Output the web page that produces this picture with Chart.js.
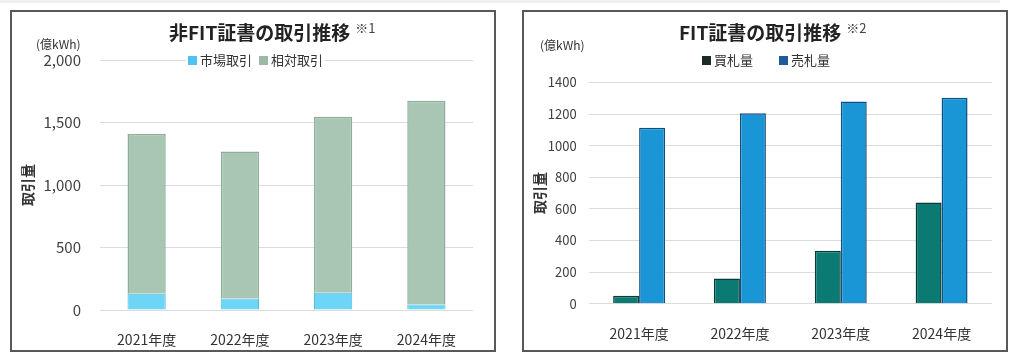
<!DOCTYPE html>
<html>
<head>
<meta charset="utf-8">
<script src="https://cdn.jsdelivr.net/npm/chart.js@4.4.1/dist/chart.umd.min.js"></script>
<style>
  html, body { margin: 0; padding: 0; background: #ffffff; }
  body { width: 1024px; height: 364px; position: relative; overflow: hidden;
         font-family: "Noto Sans CJK JP", "Noto Sans", sans-serif; color: #262626; }
  .strip { position: absolute; left: 0; top: 0; width: 1000px; height: 3px; background: #efefef; }
  .panel { position: absolute; top: 10px; width: 482px; height: 338px; border: 2px solid #595959; background: #fff; }
  .panel canvas { position: absolute; left: 0; top: 0; }
  .title { position: absolute; top: 4px; font-weight: bold; font-size: 19px; line-height: 24px; white-space: nowrap; color: #222; }
  .title sup { font-weight: normal; font-size: 13px; color: #444; vertical-align: 7px; margin-left: 5px; }
  .unit { position: absolute; font-size: 12px; color: #333; white-space: nowrap; line-height: 14px; }
  .legend { position: absolute; font-size: 13px; line-height: 16px; color: #333; background: #fff; white-space: nowrap; padding: 0 2px; }
  .legend span.sq { display: inline-block; width: 9px; height: 9px; margin-right: 3px; vertical-align: 0px; }
</style>
</head>
<body>
<div class="strip"></div>
<div class="panel" id="p1" style="left:10px;">
  <canvas id="c1" width="482" height="338"></canvas>
  <div class="title" style="left:157px;">非FIT証書の取引推移<sup>※1</sup></div>
  <div class="unit" style="left:24px; top:25px;">(億kWh)</div>
  <div class="legend" style="left:174px; top:40px;"><span class="sq" style="background:#4fc3ef"></span>市場取引 <span class="sq" style="background:#9db8a5; margin-left:4px"></span>相対取引</div>
</div>
<div class="panel" id="p2" style="left:522px;">
  <canvas id="c2" width="482" height="338"></canvas>
  <div class="title" style="left:155px;">FIT証書の取引推移<sup>※2</sup></div>
  <div class="unit" style="left:16px; top:26px;">(億kWh)</div>
  <div class="legend" style="left:176px; top:40px;"><span class="sq" style="background:#1b2b29"></span>買札量<span class="sq" style="background:#1f5b98; margin-left:26px"></span>売札量</div>
</div>
<script>
const categories = ["2021年度", "2022年度", "2023年度", "2024年度"];
// Left chart: 非FIT証書 (億kWh)
const marketTrade = [130, 93, 139, 45];          // 市場取引
const bilateralTrade = [1278, 1176, 1407, 1630]; // 相対取引
const leftTicks = [0, 500, 1000, 1500, 2000];
// Right chart: FIT証書 (億kWh)
const buyVolume = [50, 160, 335, 640];           // 買札量
const sellVolume = [1114, 1205, 1279, 1304];     // 売札量
const rightTicks = [0, 200, 400, 600, 800, 1000, 1200, 1400];

const FONT = "'Noto Sans CJK JP', 'Noto Sans', sans-serif";
Chart.defaults.font.family = FONT;
Chart.defaults.color = "#404040";

function yTitle(text) {
  return { display: true, text: text, color: "#333", font: { size: 14, weight: "bold" }, padding: { top: 7, bottom: 0 } };
}

new Chart(document.getElementById("c1"), {
  type: "bar",
  data: {
    labels: categories,
    datasets: [
      { label: "市場取引", data: marketTrade, backgroundColor: "#6dd5f6", borderColor: "#5ab9d8", borderWidth: 1,
        barPercentage: 0.41, categoryPercentage: 1.0 },
      { label: "相対取引", data: bilateralTrade, backgroundColor: "#a9c6b4", borderColor: "#8daf99", borderWidth: 1.5,
        barPercentage: 0.41, categoryPercentage: 1.0 }
    ]
  },
  options: {
    responsive: false, animation: false, devicePixelRatio: 1,
    layout: { padding: { top: 48, right: 21, left: 0, bottom: 0 } },
    plugins: { legend: { display: false }, tooltip: { enabled: false } },
    scales: {
      x: {
        stacked: true,
        grid: { display: false }, border: { display: false },
        ticks: { color: "#333", font: { size: 14 }, padding: 13 },
        afterFit(s) { s.height = 40; }
      },
      y: {
        stacked: true, min: 0, max: 2000,
        afterBuildTicks(s) { s.ticks = leftTicks.map(v => ({ value: v })); },
        grid: { color: "#dcdcdc", lineWidth: 1, drawTicks: false }, border: { display: false },
        ticks: { color: "#404040", font: { size: 15 }, padding: 19,
                 callback: v => v.toLocaleString("en-US") },
        title: yTitle("取引量"),
        afterFit(s) { s.width = 88; }
      }
    }
  }
});

new Chart(document.getElementById("c2"), {
  type: "bar",
  data: {
    labels: categories,
    datasets: [
      { label: "買札量", data: buyVolume, backgroundColor: "#0b7a72", borderColor: "#0a3b36", borderWidth: 1.5,
        barPercentage: 1.0, categoryPercentage: 0.515 },
      { label: "売札量", data: sellVolume, backgroundColor: "#1a95d5", borderColor: "#0f4f82", borderWidth: 1.5,
        barPercentage: 1.0, categoryPercentage: 0.515 }
    ]
  },
  options: {
    responsive: false, animation: false, devicePixelRatio: 1,
    layout: { padding: { top: 70.5, right: 14, left: 0, bottom: 0 } },
    plugins: { legend: { display: false }, tooltip: { enabled: false } },
    scales: {
      x: {
        grid: { display: false }, border: { display: false },
        ticks: { color: "#333", font: { size: 14 }, padding: 14 },
        afterFit(s) { s.height = 46.3; }
      },
      y: {
        min: 0, max: 1400,
        afterBuildTicks(s) { s.ticks = rightTicks.map(v => ({ value: v })); },
        grid: { color: "#dcdcdc", lineWidth: 1, drawTicks: false }, border: { display: false },
        ticks: { color: "#404040", font: { size: 13 }, padding: 12, callback: v => String(v) },
        title: yTitle("取引量"),
        afterFit(s) { s.width = 64.7; }
      }
    }
  }
});
</script>
</body>
</html>
